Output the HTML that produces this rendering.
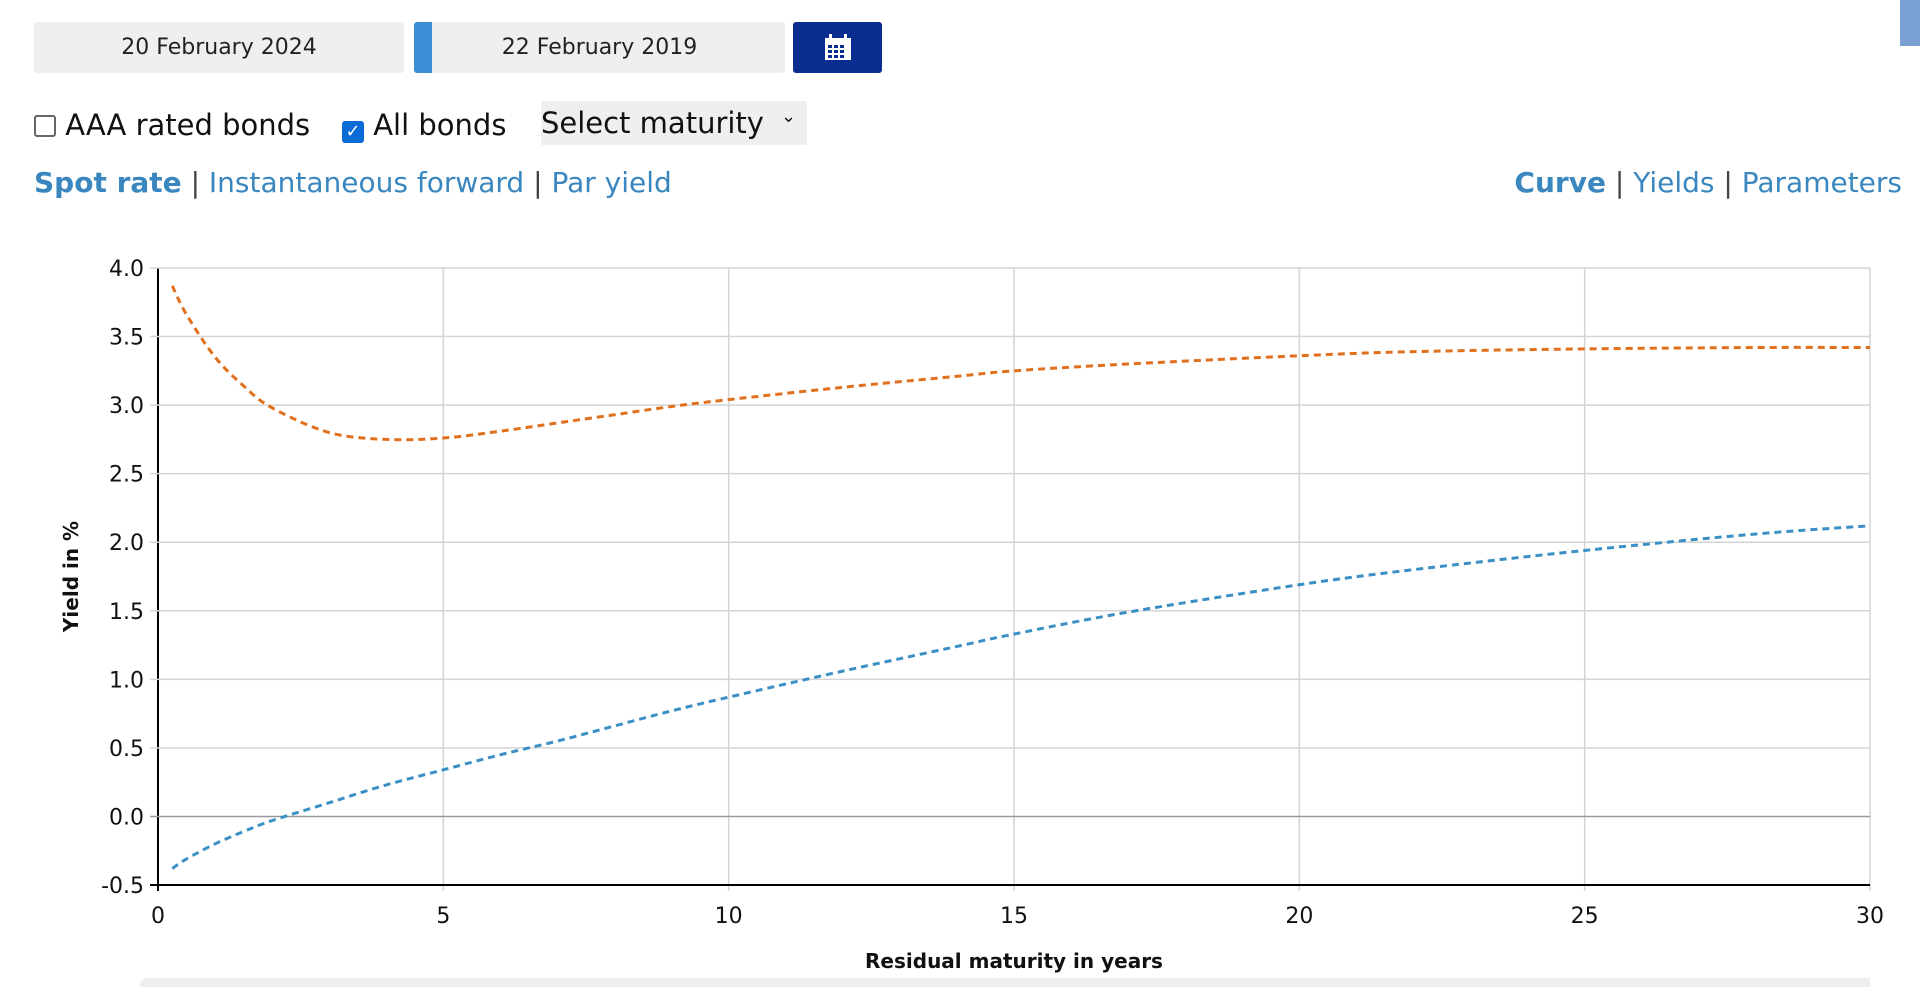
<!DOCTYPE html>
<html><head><meta charset="utf-8"><style>
body{margin:0;width:1920px;height:987px;background:#fff;font-family:"DejaVu Sans","Liberation Sans",sans-serif;position:relative;overflow:hidden}
.abs{position:absolute}
.date{background:#efefef;border-radius:3px;top:22px;height:51px;line-height:51px;text-align:center;font-size:22px;color:#222}
.lnk{color:#3a87c0}
.sep{color:#444}
</style></head><body>
<div class="abs date" style="left:34px;width:370px">20 February 2024</div>
<div class="abs date" style="left:414px;width:371px"><div class="abs" style="left:0;top:0;width:18px;height:51px;background:#3a8fd6;border-radius:3px 0 0 3px"></div>22 February 2019</div>
<div class="abs" style="left:793px;top:22px;width:89px;height:51px;background:#0a2d8f;border-radius:3px">
<svg width="89" height="51"><rect x="32" y="16" width="26" height="22" fill="#fff"/><g fill="#0a2d8f"><rect x="35" y="23" width="4" height="3"/><rect x="41" y="23" width="4" height="3"/><rect x="47" y="23" width="4" height="3"/><rect x="35" y="28" width="4" height="3"/><rect x="41" y="28" width="4" height="3"/><rect x="47" y="28" width="4" height="3"/><rect x="35" y="33" width="4" height="3"/><rect x="41" y="33" width="4" height="3"/><rect x="47" y="33" width="4" height="3"/></g><rect x="36" y="12" width="3" height="6" fill="#fff"/><rect x="51" y="12" width="3" height="6" fill="#fff"/></svg></div>
<div class="abs" style="left:34px;top:108px;font-size:29px;color:#111;white-space:nowrap">
<span style="display:inline-block;width:18px;height:18px;border:2px solid #666;border-radius:3px;vertical-align:-2px"></span><span> AAA rated bonds</span>
</div>
<div class="abs" style="left:342px;top:108px;font-size:29px;color:#111;white-space:nowrap">
<span style="display:inline-block;width:22px;height:22px;background:#0d6bd6;border-radius:3px;vertical-align:-2px;color:#fff;font-size:18px;line-height:22px;text-align:center">✓</span><span> All bonds</span>
</div>
<div class="abs" style="left:541px;top:101px;width:266px;height:44px;background:#efefef;font-size:29px;line-height:44px;color:#111;white-space:nowrap">Select maturity<span class="abs" style="left:240px;top:-6px;font-size:18px">⌄</span></div>
<div class="abs" style="left:34px;top:166px;font-size:28px;white-space:nowrap">
<span class="lnk" style="font-weight:bold">Spot rate</span> <span class="sep">|</span> <span class="lnk">Instantaneous forward</span> <span class="sep">|</span> <span class="lnk">Par yield</span>
</div>
<div class="abs" style="right:18px;top:166px;font-size:28px;white-space:nowrap">
<span class="lnk" style="font-weight:bold">Curve</span> <span class="sep">|</span> <span class="lnk">Yields</span> <span class="sep">|</span> <span class="lnk">Parameters</span>
</div>
<div class="abs" style="left:1900px;top:0;width:20px;height:46px;background:#7a9fd4"></div>
<div class="abs" style="left:140px;top:978px;width:1730px;height:9px;background:#eee;border-radius:8px 0 0 0"></div>
<svg class="abs" style="left:0;top:0" width="1920" height="987" id="chart"></svg>
<script>
const xTicks=[0,5,10,15,20,25,30];
const yTicks=[-0.5,0,0.5,1,1.5,2,2.5,3,3.5,4];
const maturities=[0.25,0.5,1,1.5,2,3,4,5,6,7,8,9,10,12,14,15,17,20,22,25,28,30];
const yields2024=[3.87,3.66,3.35,3.14,2.98,2.8,2.75,2.76,2.81,2.87,2.93,2.99,3.04,3.13,3.21,3.25,3.30,3.36,3.39,3.41,3.42,3.42];
const yields2019=[-0.38,-0.31,-0.2,-0.11,-0.03,0.1,0.23,0.34,0.45,0.55,0.66,0.77,0.87,1.06,1.24,1.33,1.49,1.69,1.80,1.94,2.06,2.12];
const L=158,R=1870,T=268,B=885;
const sx=v=>L+(v-0)/(30-0)*(R-L);
const sy=v=>B-(v+0.5)/(4.5)*(B-T);
const svg=document.getElementById('chart');const NS='http://www.w3.org/2000/svg';
function mk(t,a){const e=document.createElementNS(NS,t);for(const k in a)e.setAttribute(k,a[k]);svg.appendChild(e);return e;}
xTicks.forEach(v=>{
const g=mk('line',{x1:sx(v),x2:sx(v),y1:T,y2:B+6,stroke:v===0?'#000':'#d4d4d4','stroke-width':v===0?2:1.5});


const t=mk('text',{x:sx(v),y:B+38,'text-anchor':'middle','font-size':22,fill:'#111'});t.textContent=v;


});
yTicks.forEach(v=>{
const g=mk('line',{x1:L-8,x2:R,y1:sy(v),y2:sy(v),stroke:v===0?'#999':(v===-0.5?'#000':'#d4d4d4'),'stroke-width':v===-0.5?2:1.5});


const t=mk('text',{x:L-14,y:sy(v)+8,'text-anchor':'end','font-size':22,fill:'#111'});t.textContent=v.toFixed(1);


});
const yt=mk('text',{x:0,y:0,transform:`translate(78,${(T+B)/2}) rotate(-90)`,'text-anchor':'middle','font-size':20,'font-weight':'bold',fill:'#111'});yt.textContent='Yield in %';


const xt=mk('text',{x:(L+R)/2,y:968,'text-anchor':'middle','font-size':20,'font-weight':'bold',fill:'#111'});xt.textContent='Residual maturity in years';


function line(vals,color,name){
const P=maturities.map((m,i)=>[sx(m),sy(vals[i])]);
let d='M'+P[0][0]+','+P[0][1];
for(let i=0;i<P.length-1;i++){
const p0=P[i-1]||P[i],p1=P[i],p2=P[i+1],p3=P[i+2]||P[i+1];
const c1=[p1[0]+(p2[0]-p0[0])/6,p1[1]+(p2[1]-p0[1])/6];
const c2=[p2[0]-(p3[0]-p1[0])/6,p2[1]-(p3[1]-p1[1])/6];
d+=` C${c1[0]},${c1[1]} ${c2[0]},${c2[1]} ${p2[0]},${p2[1]}`;
}
const p=mk('path',{d:d,fill:'none',stroke:color,'stroke-width':3,'stroke-dasharray':'7,5'});


}
line(yields2024,'#e0701e','series-2024');
line(yields2019,'#3a8fc4','series-2019');
</script>
</body></html>
